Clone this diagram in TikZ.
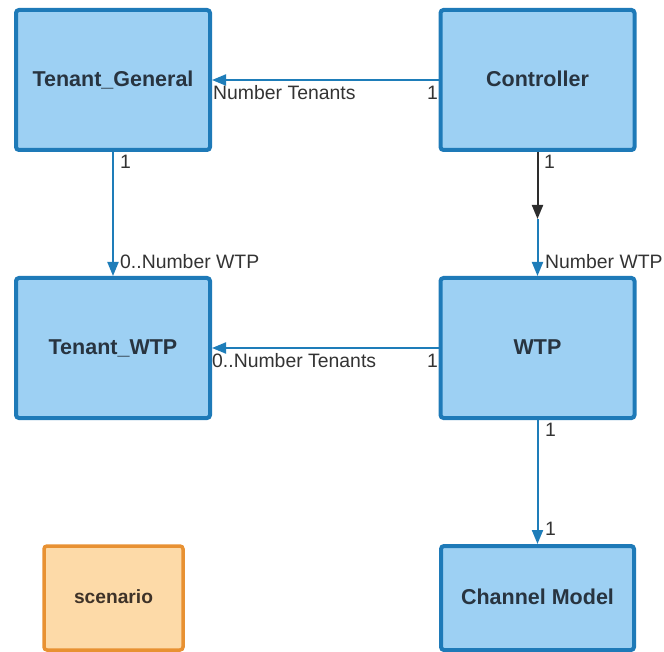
\documentclass[tikz,border=0pt]{standalone}
\usepackage{fontspec}
\setmainfont{Liberation Sans}
\usetikzlibrary{arrows.meta}

\definecolor{boxfill}{RGB}{157,208,243}
\definecolor{boxline}{RGB}{30,122,184}
\definecolor{wire}{RGB}{30,125,185}
\definecolor{darkwire}{RGB}{45,45,45}
\definecolor{titletext}{RGB}{40,52,64}
\definecolor{labeltext}{RGB}{51,51,51}
\definecolor{notefill}{RGB}{253,218,168}
\definecolor{noteline}{RGB}{232,145,50}
\definecolor{notetext}{RGB}{62,50,40}

\newcommand{\lifted}[1]{\raisebox{2.5pt}{#1}}

\tikzset{
  classbox/.style={draw=boxline, fill=boxfill, line width=4pt, rounded corners=3pt,
    minimum width=194pt, minimum height=140pt, inner sep=0pt,
    text=titletext, font=\fontsize{21.5}{24}\selectfont\bfseries},
  notebox/.style={draw=noteline, fill=notefill, line width=3.5pt, rounded corners=3pt,
    minimum width=139pt, minimum height=103pt, inner sep=0pt,
    text=notetext, font=\fontsize{19.2}{22}\selectfont\bfseries},
  link/.style={draw=wire, line width=2pt, -{Triangle[length=14pt,width=11pt]}},
  darklink/.style={draw=darkwire, line width=2pt, -{Triangle[length=14pt,width=11pt]}},
  mult/.style={text=labeltext, font=\fontsize{19.4}{22}\selectfont, inner sep=0pt},
}

\begin{document}
\begin{tikzpicture}[x=1pt, y=-1pt]
  \useasboundingbox (0,0) rectangle (664,652);

  % classes
  \node[classbox] (tgen) at (113,80) {\lifted{Tenant\_General}};
  \node[classbox] (ctrl) at (537.5,80) {\lifted{Controller}};
  \node[classbox] (twtp) at (113,348) {\lifted{Tenant\_WTP}};
  \node[classbox] (wtp) at (537.5,348) {\lifted{WTP}};
  \node[classbox, minimum height=104pt, minimum width=193pt] (chan) at (537.5,598) {\lifted{Channel Model}};
  \node[notebox, minimum height=104pt] (scen) at (113.5,598) {\lifted{scenario}};

  % associations
  \draw[link] (ctrl.west) -- (tgen.east);
  \draw[link] (tgen.south) -- (twtp.north);
  \coordinate (mid) at (537.5,219);
  \draw[darklink] (ctrl.south) -- (mid);
  \draw[link] (mid) -- (wtp.north);
  \draw[link] (wtp.west) -- (twtp.east);
  \draw[link] (wtp.south) -- (chan.north);

  % multiplicities
  \node[mult, anchor=west] (m1) at (213,93) {Number Tenants};
  \node[mult, anchor=east] (m2) at (438,93) {1};
  \node[mult, anchor=west] (m3) at (120,162) {1};
  \node[mult, anchor=west] (m4) at (120,262) {0..Number WTP};
  \node[mult, anchor=west] (m5) at (544,162) {1};
  \node[mult, anchor=west] (m6) at (545,262) {Number WTP};
  \node[mult, anchor=west] (m7) at (212,361) {0..Number Tenants};
  \node[mult, anchor=east] (m8) at (438,361) {1};
  \node[mult, anchor=west] (m9) at (545,430) {1};
  \node[mult, anchor=west] (m10) at (545,529) {1};
\end{tikzpicture}
\end{document}
